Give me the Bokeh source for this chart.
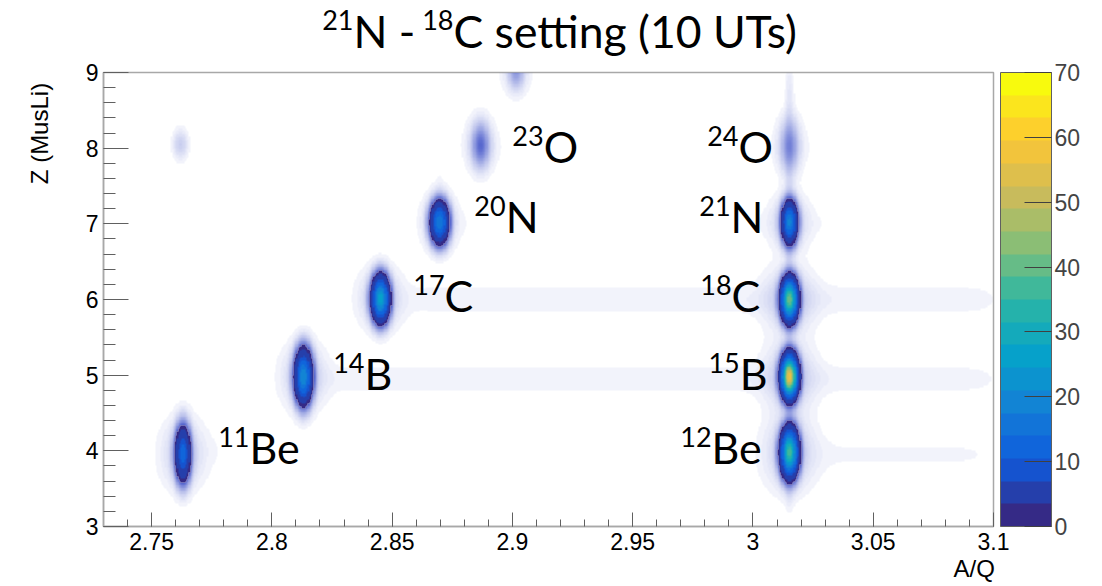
import numpy as np
from bokeh.plotting import figure
from bokeh.layouts import column, row
from bokeh.models import (LinearColorMapper, ColorBar, SingleIntervalTicker, LinearAxis,
                          FixedTicker, NumeralTickFormatter, ColumnDataSource,
                          CustomJSTickFormatter)
from bokeh.core.properties import value
from bokeh.embed import file_html
from bokeh.resources import INLINE

# ---------------- data ----------------
# isotope blobs (A/Q centre, Z centre, peak counts per bin, widths)
blob_name  = ["11Be", "14B", "17C", "20N", "23O", "top", "12Be", "15B", "18C", "21N", "24O", "faint"]
blob_aq    = [2.7630, 2.8132, 2.8452, 2.8697, 2.8868, 2.9015, 3.0152, 3.0152, 3.0152, 3.0152, 3.0152, 2.7620]
blob_z     = [3.96,   4.98,   6.01,   7.02,   8.04,   9.02,   3.98,   4.98,   6.00,   7.02,   8.03,   8.05]
blob_peak  = [12,     20,     26,     17,     1.6,    0.9,    36,     57,     40,     18,     1.1,    0.40]
blob_saq   = [0.0018, 0.0020, 0.0020, 0.0021, 0.0022, 0.0020, 0.0020, 0.0019, 0.0019, 0.0018, 0.0022, 0.0020]
blob_sz    = [0.20,   0.19,   0.16,   0.15,   0.17,   0.14,   0.17,   0.15,   0.15,   0.15,   0.20,   0.12]
# diffuse halos around the blobs
halo_peak  = [0.40,   0.45,   0.45,   0.40,   0.30,   0.20,   0.45,   0.45,   0.45,   0.40,   0.25,   0.0]
halo_saq   = [0.0055, 0.0055, 0.0055, 0.0045, 0.0040, 0.0040, 0.0065, 0.0065, 0.0065, 0.0050, 0.0040, 0.003]
halo_sz    = [0.28,   0.26,   0.24,   0.22,   0.22,   0.20,   0.30,   0.28,   0.26,   0.22,   0.24,   0.15]

# horizontal background bands (A/Q from..to, Z centre, Z width, density)
band_aq_lo = [2.855, 2.820, 3.020, 2.770, 2.875, 2.890]
band_aq_hi = [3.100, 3.100, 3.100, 2.810, 3.100, 3.100]
band_z     = [6.00,  4.95,  3.95,  4.00,  7.00,  8.00]
band_sz    = [0.14,  0.14,  0.16,  0.20,  0.13,  0.10]
band_dens  = [0.08,  0.075, 0.05,  0.035, 0.03,  0.012]
# vertical background stripes (A/Q centre, width, Z from..to, density)
vline_aq   = [3.0152, 2.8700]
vline_saq  = [0.0012, 0.0012]
vline_z_lo = [3.30,   7.20]
vline_z_hi = [9.00,   8.90]
vline_dens = [0.16,   0.03]
uniform_bg = 0.008

# labels drawn on the plot
label_mass = ["23", "24", "20", "21", "17", "18", "14", "15", "11", "12"]
label_elem = ["O",  "O",  "N",  "N",  "C",  "C",  "B",  "B",  "Be", "Be"]
label_x    = [2.9130, 2.9940, 2.8972, 2.9907, 2.8718, 2.9911, 2.8385, 2.9945, 2.7907, 2.9828]
label_y    = [7.80,   7.80,   6.87,   6.87,   5.83,   5.83,   4.80,   4.80,   3.82,   3.82]

title_parts = ["21", "N - ", "18", "C setting (10 UTs)"]
title_sup   = [True, False, True, False]
y_title = "Z (MusLi)"
x_title = "A/Q"
x_title_pos = 3.092

x_range = (2.73, 3.10)
y_range = (3.0, 9.0)
cbar_ticks = [0, 10, 20, 30, 40, 50, 60, 70]

# ---------------- histogram on bins ----------------
bin_aq, bin_z = 0.0005, 0.02
n_aq = int(round((x_range[1] - x_range[0]) / bin_aq))
n_z = int(round((y_range[1] - y_range[0]) / bin_z))
aq_c = x_range[0] + (np.arange(n_aq) + 0.5) * bin_aq
z_c = y_range[0] + (np.arange(n_z) + 0.5) * bin_z
AQ, Z = np.meshgrid(aq_c, z_c)

dens = np.full(AQ.shape, uniform_bg)
for i in range(len(blob_aq)):
    dx = (AQ - blob_aq[i])
    dz = (Z - blob_z[i])
    dens += blob_peak[i] * np.exp(-0.5 * (dx / blob_saq[i]) ** 2 - 0.5 * (dz / blob_sz[i]) ** 2)
    dens += halo_peak[i] * np.exp(-0.5 * (dx / halo_saq[i]) ** 2 - 0.5 * (dz / halo_sz[i]) ** 2)


def soft_box(v, lo, hi, w):
    return 1.0 / (1 + np.exp(-(v - lo) / w)) * 1.0 / (1 + np.exp((v - hi) / w))


for i in range(len(band_z)):
    dens += band_dens[i] * soft_box(AQ, band_aq_lo[i], band_aq_hi[i], 0.004) * \
        np.exp(-0.5 * ((Z - band_z[i]) / band_sz[i]) ** 2)
for i in range(len(vline_aq)):
    dens += vline_dens[i] * soft_box(Z, vline_z_lo[i], vline_z_hi[i], 0.08) * \
        np.exp(-0.5 * ((AQ - vline_aq[i]) / vline_saq[i]) ** 2)

SPARSE = 2.0   # below this the sparse dots are shown as a light wash
counts = np.where(dens >= SPARSE, np.round(dens), np.nan)
wash = np.where(dens < SPARSE, dens, np.nan)

# ---------------- palettes ----------------
st = [0, .125, .25, .375, .5, .625, .75, .875, 1]
rr = [0.2082, 0.0592, 0.0780, 0.0232, 0.1802, 0.5301, 0.8186, 0.9956, 0.9764]
gg = [0.1664, 0.3599, 0.5041, 0.6419, 0.7178, 0.7492, 0.7328, 0.7862, 0.9832]
bb = [0.5293, 0.8684, 0.8385, 0.7914, 0.6425, 0.4662, 0.3499, 0.1968, 0.0539]
pos = np.linspace(0, 1, 20)
bird = ["#%02x%02x%02x" % (int(np.interp(t, st, rr) * 255), int(np.interp(t, st, gg) * 255),
                           int(np.interp(t, st, bb) * 255)) for t in pos]
wash_pal = ["#3447c4%02x" % int(215 * a ** 0.7) for a in np.linspace(0, 1, 40)]

bird_mapper = LinearColorMapper(palette=bird, low=0, high=70, nan_color="rgba(0,0,0,0)",
                                high_color=bird[-1])
wash_mapper = LinearColorMapper(palette=wash_pal, low=0, high=SPARSE, nan_color="rgba(0,0,0,0)",
                                low_color="rgba(0,0,0,0)", high_color=wash_pal[-1])

TOP_H, LEFT_W = 60, 60
FRAME_W, FRAME_H = 890, 454
PX_PER_Z = FRAME_H / (y_range[1] - y_range[0])
# empirical baseline corrections (pixels)
BIG_FIX, SUP_FIX, SUP_RAISE = 17, 12.5, 15

# ---------------- main figure ----------------
p = figure(width=1102 - LEFT_W, height=586 - TOP_H, x_range=x_range, y_range=y_range,
           output_backend="svg", toolbar_location=None, tools="",
           min_border_left=103 - LEFT_W, min_border_right=109, min_border_top=72 - TOP_H,
           min_border_bottom=586 - 72 - FRAME_H)
p.xgrid.visible = False
p.ygrid.visible = False
p.background_fill_color = "white"
p.border_fill_color = "white"
p.outline_line_color = "#a8a8a8"
p.outline_line_width = 1.5

p.image(image=[wash], x=x_range[0], y=y_range[0], dw=x_range[1] - x_range[0],
        dh=y_range[1] - y_range[0], color_mapper=wash_mapper)
p.image(image=[counts], x=x_range[0], y=y_range[0], dw=x_range[1] - x_range[0],
        dh=y_range[1] - y_range[0], color_mapper=bird_mapper)

tick_font = "Liberation Sans"
for ax in (p.xaxis[0], p.yaxis[0]):
    ax.axis_line_color = "#a8a8a8"
    ax.axis_line_width = 1.5
    ax.major_tick_line_color = "#606060"
    ax.minor_tick_line_color = "#606060"
    ax.major_tick_out = 0
    ax.minor_tick_out = 0
    ax.major_label_text_font = tick_font
    ax.major_label_text_font_size = "23px"
    ax.major_label_text_color = "black"

p.xaxis.ticker = SingleIntervalTicker(interval=0.05, num_minor_ticks=5)
p.xaxis.formatter = NumeralTickFormatter(format="0.[00]")
p.xaxis.major_tick_in = 14
p.xaxis.minor_tick_in = 7
p.xaxis.major_label_standoff = 6

p.yaxis.ticker = SingleIntervalTicker(interval=1, num_minor_ticks=5)
p.yaxis.formatter = NumeralTickFormatter(format="0")
p.yaxis.major_tick_in = 25
p.yaxis.minor_tick_in = 12
p.yaxis.major_label_standoff = 5

# x-axis title, right-aligned under the axis end, as a second (label-only) axis
xt_axis = LinearAxis(ticker=FixedTicker(ticks=[x_title_pos], minor_ticks=[]),
                     formatter=CustomJSTickFormatter(args=dict(label=x_title), code="return label"),
                     axis_line_color=None, major_tick_line_color=None, minor_tick_line_color=None,
                     major_tick_in=0, major_tick_out=0, major_label_standoff=2,
                     major_label_text_font=tick_font, major_label_text_font_size="24px",
                     major_label_text_color="black")
p.add_layout(xt_axis, "below")

cb = ColorBar(color_mapper=bird_mapper, ticker=FixedTicker(ticks=cbar_ticks),
              width=51, padding=0, margin=0, location=(7, 0),
              major_tick_in=27, major_tick_out=0, major_tick_line_color="#404040",
              minor_tick_line_color=None, bar_line_color="#606060",
              major_label_text_font=tick_font, major_label_text_font_size="23px",
              label_standoff=3, border_line_color=None, background_fill_color=None)
p.add_layout(cb, "right")

lab_font = value("Lato")
src = ColumnDataSource(dict(
    x=label_x,
    y=[y + BIG_FIX / PX_PER_Z for y in label_y],
    ys=[y + (SUP_RAISE + SUP_FIX) / PX_PER_Z for y in label_y],
    mass=label_mass, elem=label_elem))
p.text(x="x", y="ys", text="mass", source=src, text_font=lab_font, text_font_size="27px",
       text_align="right", text_baseline="alphabetic", text_color="black")
p.text(x="x", y="y", text="elem", source=src, text_font=lab_font, text_font_size="43px",
       text_align="left", text_baseline="alphabetic", text_color="black")


def blank(w, h):
    f = figure(width=w, height=h, x_range=(0, w), y_range=(0, h), output_backend="svg",
               toolbar_location=None, tools="", x_axis_location=None, y_axis_location=None,
               min_border=0, outline_line_color=None)
    f.xgrid.visible = False
    f.ygrid.visible = False
    f.background_fill_color = "white"
    f.border_fill_color = "white"
    return f


# ---------------- title strip (pixel coordinates) ----------------
top = blank(1102, TOP_H)
t_junction = [353, 353, 453, 453]
t_base_big = TOP_H - 47 + BIG_FIX
t_base_sup = TOP_H - 47 + SUP_RAISE + SUP_FIX
tsrc = ColumnDataSource(dict(
    x=t_junction,
    y=[t_base_sup if s else t_base_big for s in title_sup],
    text=title_parts,
    size=["27px" if s else "44.5px" for s in title_sup],
    align=["right" if s else "left" for s in title_sup]))
top.text(x="x", y="y", text="text", source=tsrc, text_font=lab_font, text_font_size="size",
         text_align="align", text_baseline="alphabetic", text_color="black")

# ---------------- y-axis title strip ----------------
left = blank(LEFT_W, 586 - TOP_H)
left.text(x=[39], y=[586 - 72], text=[y_title], angle=np.pi / 2, text_font=value(tick_font),
          text_font_size="24px", text_align="right", text_baseline="middle", text_color="black")

layout = column(top, row(left, p, spacing=0), spacing=0)
open("out.html", "w").write(file_html(layout, INLINE))
